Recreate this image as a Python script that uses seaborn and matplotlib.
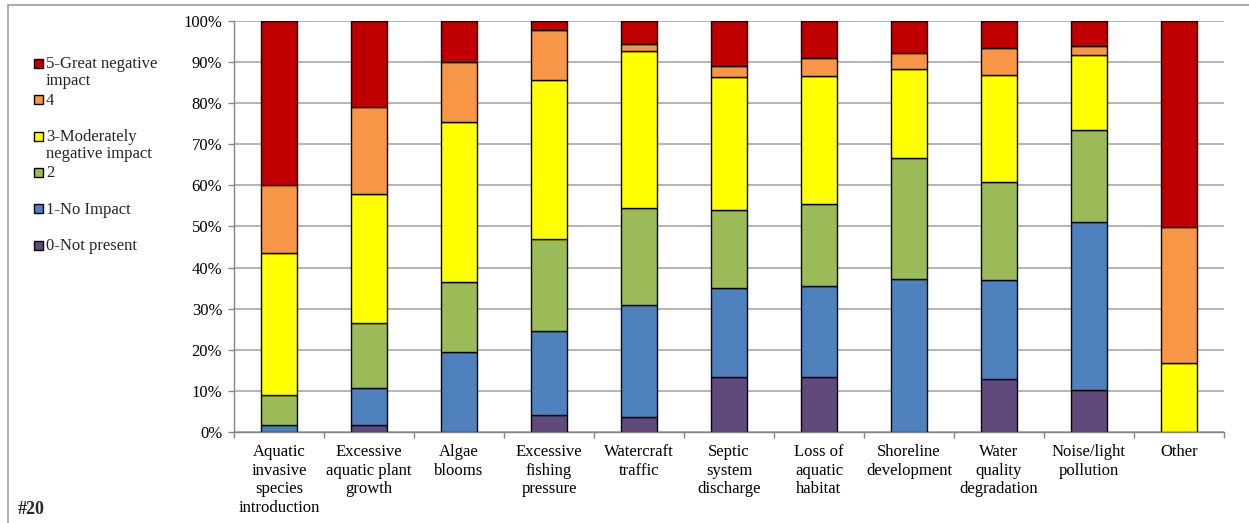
import numpy as np
import pandas as pd
import matplotlib
matplotlib.use("Agg")
import matplotlib.pyplot as plt
from matplotlib.patches import Rectangle
from matplotlib.lines import Line2D
from matplotlib.ticker import FixedLocator, PercentFormatter
import seaborn as sns

# Threats to the lake, each rated by respondents on a 0-5 impact scale
categories = [
    "Aquatic\ninvasive\nspecies\nintroduction",
    "Excessive\naquatic plant\ngrowth",
    "Algae\nblooms",
    "Excessive\nfishing\npressure",
    "Watercraft\ntraffic",
    "Septic\nsystem\ndischarge",
    "Loss of\naquatic\nhabitat",
    "Shoreline\ndevelopment",
    "Water\nquality\ndegradation",
    "Noise/light\npollution",
    "Other",
]

# Share of responses (%) per rating, one value per category
rating_0 = [0.0, 1.8, 0.0, 4.1, 3.6, 13.5, 13.3, 0.0, 13.0, 10.2, 0.0]
rating_1 = [1.8, 8.8, 19.4, 20.4, 27.3, 21.6, 22.2, 37.3, 23.9, 40.8, 0.0]
rating_2 = [7.3, 15.8, 17.1, 22.4, 23.6, 18.9, 20.0, 29.4, 23.9, 22.4, 0.0]
rating_3 = [34.5, 31.6, 38.9, 38.8, 38.2, 32.4, 31.1, 21.6, 26.1, 18.4, 16.7]
rating_4 = [16.4, 21.0, 14.6, 12.2, 1.8, 2.7, 4.4, 3.9, 6.5, 2.0, 33.3]
rating_5 = [40.0, 21.0, 10.0, 2.1, 5.5, 10.9, 9.0, 7.8, 6.6, 6.2, 50.0]

rating_labels = [
    "0-Not present",
    "1-No Impact",
    "2",
    "3-Moderately\nnegative impact",
    "4",
    "5-Great negative\nimpact",
]
rating_colors = ["#604A7B", "#4F81BD", "#9BBB59", "#FFFF00", "#F79646", "#C00000"]

series = [rating_0, rating_1, rating_2, rating_3, rating_4, rating_5]
rows = []
for label, values in zip(rating_labels, series):
    for pos, v in enumerate(values):
        rows.append({"pos": pos, "rating": label, "pct": v})
df = pd.DataFrame(rows)

sns.set_theme(style="white")
plt.rcParams["font.family"] = ["Liberation Serif", "DejaVu Serif"]

W, H = 1249, 523
fig = plt.figure(figsize=(W / 100, H / 100), dpi=100)
ax = fig.add_axes([234 / W, 1 - 432 / H, (1224 - 234) / W, (432 - 21) / H])

# seaborn stacks the last hue level at the bottom
hue_order = rating_labels[::-1]
palette = dict(zip(rating_labels, rating_colors))
sns.histplot(
    data=df, x="pos", weights="pct", hue="rating", hue_order=hue_order,
    multiple="stack", discrete=True, shrink=0.4, palette=palette,
    edgecolor="black", linewidth=1.0, alpha=1.0, legend=False, ax=ax,
)

n = len(categories)
ax.set_xlim(-0.5, n - 0.5)
ax.set_ylim(0, 100)
ax.set_xlabel("")
ax.set_ylabel("")

ax.yaxis.set_major_locator(FixedLocator(np.arange(0, 101, 10)))
ax.yaxis.set_major_formatter(PercentFormatter(decimals=0))
ax.grid(axis="y", color="#A8A8A8", linewidth=1.2)
ax.grid(axis="x", visible=False)
ax.set_axisbelow(True)

ax.set_xticks(np.arange(n))
ax.set_xticklabels(categories, fontsize=12, linespacing=1.2,
                   ha="center", multialignment="center")
ax.set_xticks(np.arange(n + 1) - 0.5, minor=True)
ax.tick_params(axis="x", which="major", length=0, pad=9, colors="black")
ax.tick_params(axis="x", which="minor", length=4, width=1, color="#868686",
               direction="out", bottom=True)
ax.tick_params(axis="y", which="major", length=4.5, width=1, color="#868686",
               direction="out", left=True, pad=4, labelsize=12, labelcolor="black")

for side in ("top", "right"):
    ax.spines[side].set_visible(False)
for side in ("left", "bottom"):
    ax.spines[side].set_visible(True)
    ax.spines[side].set_color("#868686")
    ax.spines[side].set_linewidth(1.0)

# Legend, highest rating first, drawn in figure pixel space
legend_top = 63.5
legend_step = 36.3
for k, (label, color) in enumerate(zip(rating_labels[::-1], rating_colors[::-1])):
    yc = legend_top + k * legend_step
    fig.add_artist(Rectangle((34 / W, 1 - (yc + 4.5) / H), 9 / W, 9 / H,
                             transform=fig.transFigure, facecolor=color,
                             edgecolor="black", linewidth=1.0))
    fig.text(46 / W, 1 - (yc - 7) / H, label, fontsize=12, va="top",
             ha="left", linespacing=1.08)

fig.text(18 / W, 1 - 510 / H, "#20", fontsize=13, fontweight="bold",
         va="center", ha="left")

# Outer frame of the chart area
frame = dict(color="#A0A0A0", linewidth=1.2, transform=fig.transFigure)
fig.add_artist(Line2D([7.5 / W, 7.5 / W], [0, 1 - 5 / H], **frame))
fig.add_artist(Line2D([7.5 / W, 1], [1 - 5 / H, 1 - 5 / H], **frame))

fig.savefig("out.png", dpi=100)
